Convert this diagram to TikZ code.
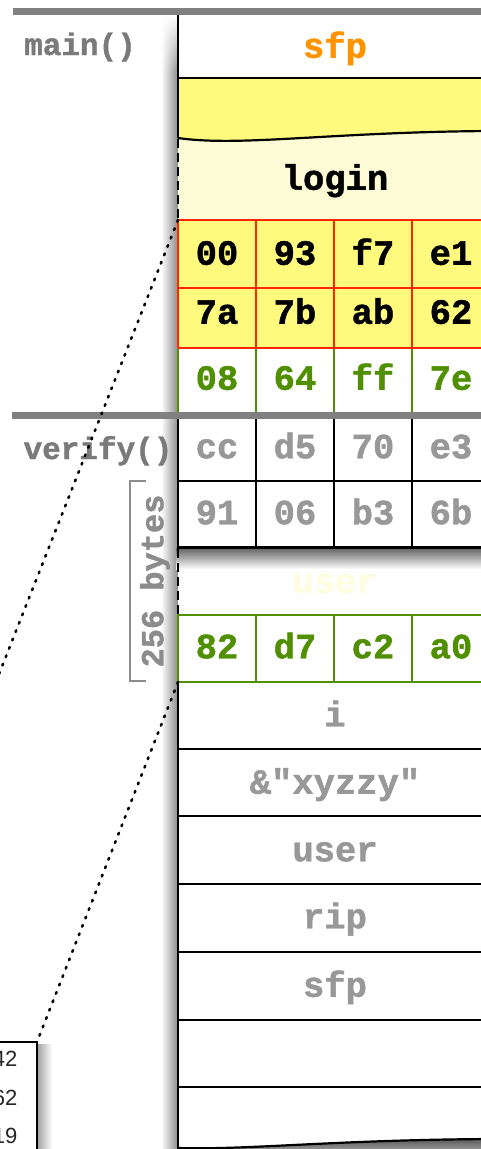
\documentclass[tikz,border=0pt]{standalone}
\usepackage{fontspec}
\setmonofont{Liberation Mono}[BoldFeatures={FakeBold=1.3}]
\setsansfont{Liberation Sans}
\usetikzlibrary{fadings}
\definecolor{barGray}{RGB}{128,128,128}
\definecolor{lblGray}{RGB}{122,122,122}
\definecolor{cellGray}{RGB}{152,152,152}
\definecolor{brkGray}{RGB}{140,140,140}
\definecolor{sfpOrange}{RGB}{255,147,0}
\definecolor{hiYellow}{RGB}{255,250,125}
\definecolor{paleYellow}{RGB}{254,252,214}
\definecolor{redLine}{RGB}{255,38,0}
\definecolor{greenLine}{RGB}{79,143,0}
\definecolor{ghost}{RGB}{255,253,224}
\tikzset{
  cellText/.style={font=\ttfamily\bfseries\fontsize{35.5}{40}\selectfont,
    text height=21.5pt, text depth=0pt, inner sep=0pt},
  frameLbl/.style={font=\ttfamily\bfseries\fontsize{31}{36}\selectfont,
    text=lblGray, text height=19pt, text depth=0pt, inner sep=0pt},
  rowLine/.style={line width=2.2pt, black},
  redGrid/.style={line width=2pt, redLine},
  greenGrid/.style={line width=2pt, greenLine},
  dashEdge/.style={line width=2.2pt, black, dash pattern=on 9pt off 5pt},
  dotLink/.style={line width=2.6pt, black, line cap=round, dash pattern=on 1.8pt off 7.2pt},
  sepBar/.style={line width=7pt, barGray},
  memText/.style={font=\sffamily\fontsize{22}{24}\selectfont, text=black!85, inner sep=0pt, anchor=base east}
}
\begin{document}
\begin{tikzpicture}[x=1pt,y=-1pt]
\useasboundingbox (0,0) rectangle (481,1149);
\clip (0,0) rectangle (481,1149);

% ---- left shadow of the stack
\shade[left color=white, right color=black!45] (161,15) rectangle (178,1149);
\fill[white, path fading=south] (158,15) rectangle (178,70);

% ---- stack backgrounds
\fill[white] (178,15) rectangle (490,1149);
\fill[paleYellow] (178,110) rectangle (490,220);
\fill[hiYellow] (178,78) -- (490,78) -- (490,131) .. controls (330,132) and (240,147) .. (178,138) -- cycle;
\fill[hiYellow] (178,220) rectangle (490,347.5);

% ---- top frame (main)
\draw[rowLine] (178,15) -- (178,138);
\draw[rowLine] (178,78) -- (490,78);
\draw[rowLine] (178,138) .. controls (240,147) and (330,132) .. (490,131);
\draw[dashEdge] (178,139) -- (178,220);

% red grid
\foreach \yy in {220,287.5,347.5} \draw[redGrid] (178,\yy) -- (490,\yy);
\foreach \xx in {178,256,334,412} \draw[redGrid] (\xx,220) -- (\xx,347.5);
% green row
\foreach \xx in {178,256,334,412} \draw[greenGrid] (\xx,348.5) -- (\xx,415);

% ---- verify frame rows
\draw[rowLine] (178,415) -- (490,415);
\foreach \xx in {178,256,334,412} \draw[rowLine] (\xx,415) -- (\xx,547.5);
\draw[rowLine] (178,481) -- (490,481);
\shade[top color=black!60, bottom color=white] (176,548.5) rectangle (490,569);
\draw[rowLine] (177,547.5) -- (490,547.5);
\draw[dashEdge] (178,549) -- (178,615);

% green row 82..
\draw[greenGrid] (178,615) -- (490,615);
\draw[greenGrid] (178,682) -- (490,682);
\foreach \xx in {178,256,334,412} \draw[greenGrid] (\xx,615) -- (\xx,682);

% lower rows
\draw[rowLine] (178,683) -- (178,1149);
\foreach \yy in {749,816,884,952,1020,1087} \draw[rowLine] (178,\yy) -- (490,\yy);
\shade[top color=black!65, bottom color=black!35] (178,1148) .. controls (250,1150) and (330,1140) .. (490,1139) -- (490,1152) -- (178,1152) -- cycle;
\draw[rowLine] (178,1148) .. controls (250,1150) and (330,1140) .. (490,1139);

% ---- separator bars
\draw[sepBar] (13,11) -- (481,11);
\draw[sepBar] (12,415) -- (481,415);

% ---- frame labels
\node[frameLbl] (mainLbl) at (80,45.5) {main()};
\node[frameLbl] (verifyLbl) at (98,449.5) {verify()};

% ---- stack labels
\node[cellText, text=sfpOrange] (sfpTop) at (335,47) {sfp};
\node[cellText] (login) at (335,179) {login};
\node[cellText] (b00) at (217,254) {00};
\node[cellText] (b93) at (295,254) {93};
\node[cellText] (bf7) at (373,254) {f7};
\node[cellText] (be1) at (451,254) {e1};
\node[cellText] (b7a) at (217,313) {7a};
\node[cellText] (b7b) at (295,313) {7b};
\node[cellText] (bab) at (373,313) {ab};
\node[cellText] (b62) at (451,313) {62};
\node[cellText, text=greenLine] (b08) at (217,379) {08};
\node[cellText, text=greenLine] (b64) at (295,379) {64};
\node[cellText, text=greenLine] (bff) at (373,379) {ff};
\node[cellText, text=greenLine] (b7e) at (451,379) {7e};
\node[cellText, text=cellGray] (bcc) at (217,447.5) {cc};
\node[cellText, text=cellGray] (bd5) at (295,447.5) {d5};
\node[cellText, text=cellGray] (b70) at (373,447.5) {70};
\node[cellText, text=cellGray] (be3) at (451,447.5) {e3};
\node[cellText, text=cellGray] (b91) at (217,513.5) {91};
\node[cellText, text=cellGray] (b06) at (295,513.5) {06};
\node[cellText, text=cellGray] (bb3) at (373,513.5) {b3};
\node[cellText, text=cellGray] (b6b) at (451,513.5) {6b};
\node[cellText, text=ghost] (ghostUser) at (335,582) {user};
\node[cellText, text=greenLine] (b82) at (217,647.5) {82};
\node[cellText, text=greenLine] (bd7) at (295,647.5) {d7};
\node[cellText, text=greenLine] (bc2) at (373,647.5) {c2};
\node[cellText, text=greenLine] (ba0) at (451,647.5) {a0};
\node[cellText, text=cellGray] (varI) at (335,715.5) {i};
\node[cellText, text=cellGray] (varStr) at (335,783) {\&"xyzzy"};
\node[cellText, text=cellGray] (varUser) at (335,850.5) {user};
\node[cellText, text=cellGray] (varRip) at (335,917.5) {rip};
\node[cellText, text=cellGray] (varSfp) at (335,986) {sfp};

% ---- 256 bytes bracket
\draw[brkGray, line width=2pt] (146,481) -- (130,481) -- (130,681) -- (146,681);
\node[cellText, font=\ttfamily\bfseries\fontsize{32}{36}\selectfont, text=brkGray, text height=19.5pt, rotate=90] (bytesLbl) at (153.5,581) {256 bytes};

% ---- memory dump box (bottom left)
\shade[left color=black!35, right color=white] (38,1044) rectangle (52,1149);
\draw[line width=2pt, fill=white] (-10,1042) rectangle (37,1170);
\coordinate (boxTR) at (37,1042);
\node[memText] (mem1) at (17.5,1066) {42};
\node[memText] (mem2) at (17.5,1105) {62};
\node[memText] (mem3) at (17.5,1143) {19};

% ---- dotted connectors
\coordinate (gridTL) at (178,220);
\coordinate (greenBL) at (178,682);
\coordinate (offLeft) at (-12,702);
\draw[dotLink] (gridTL) -- (offLeft);
\draw[dotLink] (greenBL) -- (boxTR);
\end{tikzpicture}
\end{document}
